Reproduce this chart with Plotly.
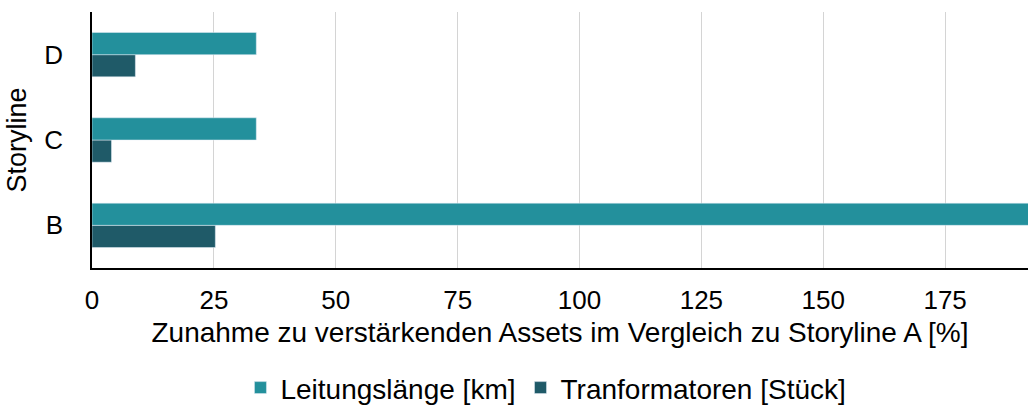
import plotly.graph_objects as go

storylines = ["B", "C", "D"]
leitung = [196, 33.7, 33.7]
trafo = [25.3, 4.0, 8.9]

fig = go.Figure()
# horizontal grouping puts the first trace lowest, so transformers go first
fig.add_trace(go.Bar(
    y=storylines, x=trafo, orientation="h",
    name="Tranformatoren [Stück]", marker_color="#1F5A68",
    legendrank=2,
))
fig.add_trace(go.Bar(
    y=storylines, x=leitung, orientation="h",
    name="Leitungslänge [km]", marker_color="#23909C",
    legendrank=1,
))

fig.update_layout(
    width=1028, height=414,
    margin=dict(l=92, r=0, t=12, b=146),
    plot_bgcolor="white", paper_bgcolor="white",
    barmode="group", bargap=0.48, bargroupgap=0,
    font=dict(family="Liberation Sans, Arial, sans-serif", size=26, color="black"),
    showlegend=True,
    legend=dict(orientation="h", x=0.485, xanchor="center", y=-0.566, yanchor="bottom",
                font=dict(size=28), itemwidth=30),
    xaxis=dict(
        range=[0, 192], dtick=25, showgrid=True, gridcolor="#D4D4D4",
        showline=True, linecolor="black", linewidth=1.5, zeroline=False,
        ticks="", ticklabelstandoff=8, tickfont=dict(size=26), automargin=False,
        title=dict(text="Zunahme zu verstärkenden Assets im Vergleich zu Storyline A [%]",
                   font=dict(size=28), standoff=8),
    ),
    yaxis=dict(
        range=[-0.5, 2.5], showline=True, linecolor="black", linewidth=1.5,
        ticks="", ticklabelstandoff=22, tickfont=dict(size=26), automargin=False,
        title=dict(text="Storyline", font=dict(size=27), standoff=10),
    ),
)

fig.write_html("out.html", config={"displayModeBar": False},
               post_script="document.body.style.margin='0';")
